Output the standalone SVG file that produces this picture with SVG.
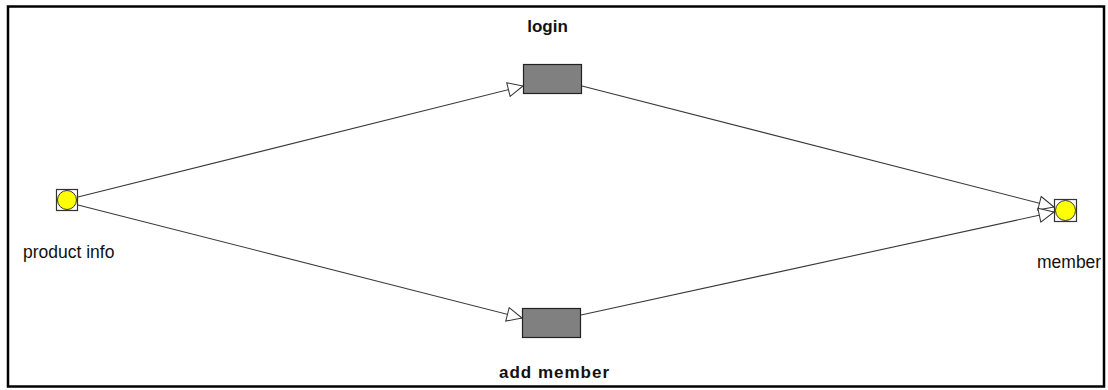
<svg xmlns="http://www.w3.org/2000/svg" width="1108" height="390" viewBox="0 0 1108 390">
  <style>
    .edge { fill: none; stroke: #3a3a3a; stroke-width: 1.1; marker-end: url(#arrow); }
    .place { fill: #ffff00; stroke: #333; stroke-width: 1; }
    .placebox { fill: none; stroke: #333; stroke-width: 1.2; }
    .task { fill: #808080; stroke: #222; stroke-width: 1.2; }
    .lbl { font-family: "Liberation Sans", Arial, sans-serif; font-size: 17.5px; fill: #111; }
    .bold { font-size: 17px; font-weight: bold; }
  </style>
  <defs>
    <marker id="arrow" markerUnits="userSpaceOnUse" markerWidth="17" markerHeight="16" refX="16" refY="8" orient="auto" viewBox="0 0 17 16">
      <path d="M1,1 L16,8 L1,15 Z" fill="#ffffff" stroke="#333" stroke-width="1"/>
    </marker>
    <clipPath id="frameClip">
      <rect x="0" y="0" width="1102" height="390"/>
    </clipPath>
  </defs>
  <rect x="0" y="0" width="1108" height="390" fill="#ffffff"/>

  <!-- connectors -->
  <g id="edges">
    <line class="edge" x1="78" y1="197" x2="523" y2="86"/>
    <line class="edge" x1="78" y1="205" x2="522" y2="318"/>
    <line class="edge" x1="582" y1="86" x2="1054" y2="207"/>
    <line class="edge" x1="581" y1="315" x2="1054" y2="212"/>
  </g>

  <g id="node-product-info">
    <rect class="placebox" x="56.5" y="189.5" width="21" height="21"/>
    <circle class="place" cx="67" cy="200" r="9.5"/>
    <text class="lbl" x="23" y="258">product info</text>
  </g>

  <g id="node-login">
    <rect class="task" x="523.5" y="64.5" width="58" height="29"/>
    <text class="lbl bold" x="547.5" y="32" text-anchor="middle">login</text>
  </g>

  <g id="node-add-member">
    <rect class="task" x="522.5" y="308.5" width="58" height="29"/>
    <text class="lbl bold" x="554" y="378" text-anchor="middle" textLength="110">add member</text>
  </g>

  <g id="node-member" clip-path="url(#frameClip)">
    <rect class="placebox" x="1054.5" y="199.5" width="22" height="22"/>
    <circle class="place" cx="1065.5" cy="210.5" r="10"/>
    <text class="lbl" x="1037" y="268">member</text>
  </g>

  <!-- frame -->
  <rect x="8" y="6.5" width="1096" height="380" fill="none" stroke="#000" stroke-width="2.5"/>
</svg>
